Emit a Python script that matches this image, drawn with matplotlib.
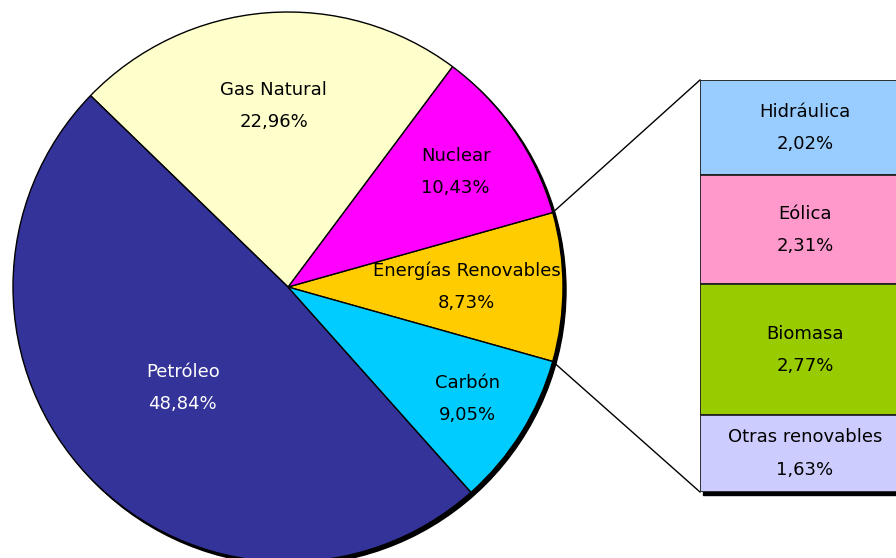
import matplotlib
matplotlib.use("Agg")

import numpy as np
import matplotlib.pyplot as plt
from matplotlib.patches import Circle, Rectangle

# data
pie_labels = ["Energías Renovables", "Nuclear", "Gas Natural", "Petróleo", "Carbón"]
pie_values = [8.73, 10.43, 22.96, 48.84, 9.05]
pie_colors = ["#FFCC00", "#FF00FF", "#FFFFCC", "#333399", "#00CCFF"]
pie_text_colors = ["black", "black", "black", "white", "black"]
pie_label_r = [0.65, 0.74, 0.66, 0.53, 0.77]

bar_labels = ["Hidráulica", "Eólica", "Biomasa", "Otras renovables"]
bar_values = [2.02, 2.31, 2.77, 1.63]
bar_colors = ["#99CCFF", "#FF99CC", "#99CC00", "#CCCCFF"]


def fmt(v):
    return f"{v:.2f}".replace(".", ",") + "%"


W, H = 896, 558
FS = 13
fig = plt.figure(figsize=(W / 100, H / 100), dpi=100, facecolor="white")
ax = fig.add_axes([0, 0, 1, 1])

cx, cy, R = 288, 271, 275
start = -pie_values[0] / sum(pie_values) * 360 / 2

# shadow of the pie
ax.add_patch(Circle((cx + 3, cy - 3), R, color="black", zorder=0))

wedges, _ = ax.pie(
    pie_values,
    colors=pie_colors,
    startangle=start,
    counterclock=True,
    center=(cx, cy),
    radius=R,
    wedgeprops=dict(edgecolor="black", linewidth=1.0),
)

for w, lab, val, tc, rf in zip(wedges, pie_labels, pie_values, pie_text_colors, pie_label_r):
    ang = np.deg2rad((w.theta1 + w.theta2) / 2)
    x = cx + rf * R * np.cos(ang)
    y = cy + rf * R * np.sin(ang)
    ax.text(x, y + 16, lab, ha="center", va="center", fontsize=FS, color=tc, zorder=5)
    ax.text(x, y - 16, fmt(val), ha="center", va="center", fontsize=FS, color=tc, zorder=5)

# bar of pie geometry (pixels)
bx0, by0, bw, bh = 700, 66, 210, 412

# connector lines
w0 = wedges[0]
for a, yb in [(w0.theta2, by0 + bh), (w0.theta1, by0)]:
    r = np.deg2rad(a)
    ax.plot([cx + R * np.cos(r), bx0], [cy + R * np.sin(r), yb], color="black", lw=1, zorder=4)

# bar shadow
ax.add_patch(Rectangle((bx0 + 3, by0 - 3), bw, bh, color="black", zorder=0))

ax.set_xlim(0, W)
ax.set_ylim(0, H)
ax.set_aspect("auto")
ax.axis("off")

# stacked bar
bax = fig.add_axes([bx0 / W, by0 / H, bw / W, bh / H])
total = sum(bar_values)
top = total
for lab, val, col in zip(bar_labels, bar_values, bar_colors):
    bottom = top - val
    bax.bar(0, val, width=1, bottom=bottom, align="edge", color=col,
            edgecolor="#222222", linewidth=1.3)
    mid = bottom + val / 2
    bax.text(0.5, mid + total * 0.039, lab, ha="center", va="center", fontsize=FS)
    bax.text(0.5, mid - total * 0.039, fmt(val), ha="center", va="center", fontsize=FS)
    top = bottom

bax.set_xlim(0, 1)
bax.set_ylim(0, total)
bax.axis("off")

fig.savefig("out.png", dpi=100, facecolor="white")
plt.close()
